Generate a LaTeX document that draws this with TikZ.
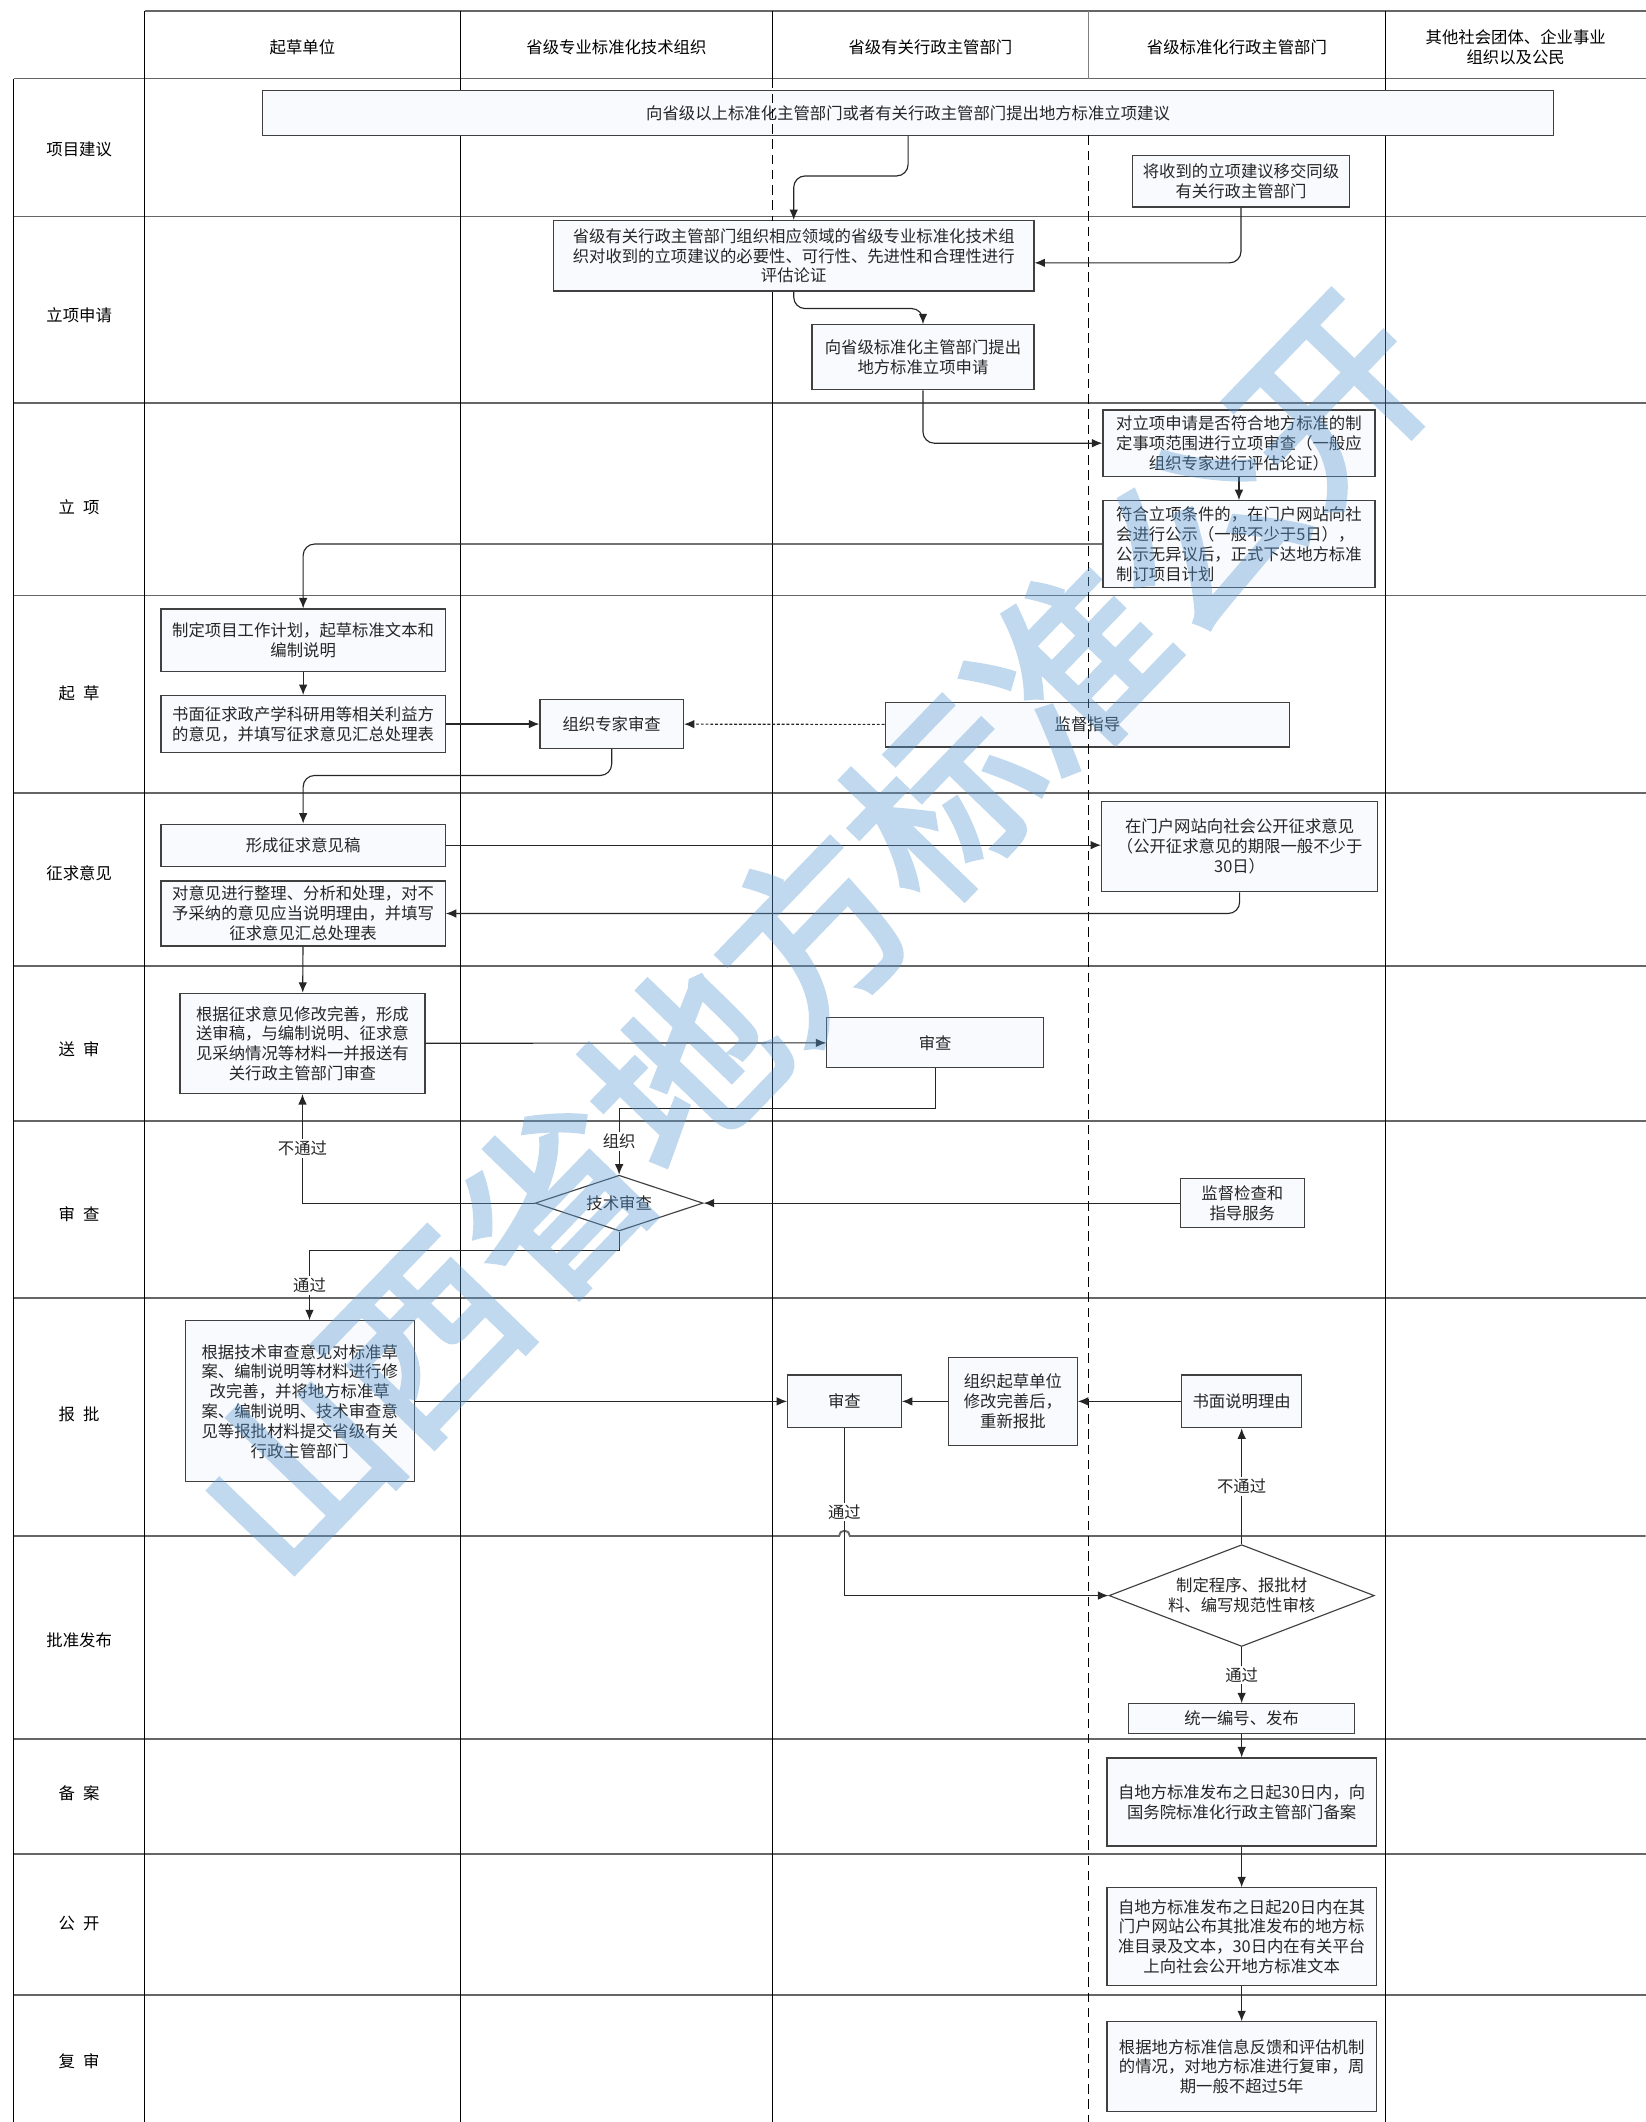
\documentclass[tikz,border=0pt]{standalone}
\usepackage{fontspec}
\setmainfont{Noto Sans CJK SC}
\newfontfamily\wmfont{Noto Sans CJK SC}[FakeBold=3]
\usetikzlibrary{shapes,arrows.meta,positioning,backgrounds}

\definecolor{boxfill}{HTML}{F8FAFD}
\definecolor{boxline}{HTML}{404040}
\definecolor{wmblue}{HTML}{5B9BD5}

\begin{document}
\begin{tikzpicture}[
        x=0.025cm, y=-0.025cm,
        font=\fontsize{8.6}{10.4}\selectfont,
        box/.style={rectangle, draw=boxline, fill=boxfill, line width=0.6pt, inner sep=0pt, align=center, text=black!85},
        span/.style 2 args={minimum width=#1*0.025cm, minimum height=#2*0.025cm},
        decision/.style={diamond, draw=boxline, fill=white, line width=0.6pt, inner sep=0pt, align=center, text=black!85},
        lane/.style={draw=black!60, line width=1pt},
        col/.style={draw=black, line width=0.6pt},
        split/.style={draw=black, line width=0.6pt, dash pattern=on 5pt off 3pt},
        arrow/.style={-{Latex[length=5.5pt,width=4.5pt]}, draw=black!85, line width=0.6pt},
        tag/.style={fill=white, inner sep=1pt, text=black!85}
    ]
        \useasboundingbox (0,0) rectangle (1216,1568);

        % lanes and columns
        \draw[lane] (107,8) -- (1216,8);
        \draw[lane] (10,58) -- (1216,58);
        \foreach \y in {160,298,440,586,714,828,959,1285,1370,1474} {
            \draw[lane] (10,\y) -- (1216,\y);
        }
        \draw[lane] (10,1135) -- (620,1135) arc[start angle=180, end angle=0, radius=0.1cm] -- (1216,1135);

        \foreach \x in {107,340,1024} {
            \draw[col] (\x,8) -- (\x,1568);
        }
        \draw[col] (10,58) -- (10,1568);
        \draw[col] (571,8) -- (571,58);
        \draw[col] (571,163) -- (571,1568);
        \draw[col, draw=black!50] (804,8) -- (804,58);

        \foreach \x/\lab [count=\i] in {223.5/起草单位, 455.5/省级专业标准化技术组织, 687.5/省级有关行政主管部门, 914/省级标准化行政主管部门, 1120/{其他社会团体、企业事业\\组织以及公民}} {
            \node[align=center] (head\i) at (\x,35) {\lab};
        }
        \foreach \y/\lab [count=\i] in {110/项目建议, 233/立项申请, 375/{立\hspace{.5em}项}, 512/{起\hspace{.5em}草}, 645/征求意见, 775/{送\hspace{.5em}审}, 897/{审\hspace{.5em}查}, 1045/{报\hspace{.5em}批}, 1212/批准发布, 1325/{备\hspace{.5em}案}, 1421/{公\hspace{.5em}开}, 1523/{复\hspace{.5em}审}} {
            \node (lane\i) at (58.5,\y) {\lab};
        }

        % steps
        \node[box, span={954}{33}] (b1) at (671,83.5) {向省级以上标准化主管部门或者有关行政主管部门提出地方标准立项建议};
        \node[box, span={160}{38}] (b2) at (917,134) {将收到的立项建议移交同级\\有关行政主管部门};
        \node[box, span={355}{52}] (b3) at (586.5,189) {省级有关行政主管部门组织相应领域的省级专业标准化技术组\\织对收到的立项建议的必要性、可行性、先进性和合理性进行\\评估论证};
        \node[box, span={164}{48}] (b4) at (682,264) {向省级标准化主管部门提出\\地方标准立项申请};
        \node[box, span={201}{49}] (b5) at (915.5,327.5) {对立项申请是否符合地方标准的制\\定事项范围进行立项审查（一般应\\组织专家进行评估论证）};
        \node[box, span={201}{64}, align=left] (b6) at (915.5,402) {符合立项条件的，在门户网站向社\\会进行公示（一般不少于5日），\\公示无异议后，正式下达地方标准\\制订项目计划};
        \node[box, span={210}{46}] (b7) at (224,473) {制定项目工作计划，起草标准文本和\\编制说明};
        \node[box, span={210}{42}] (b8) at (224,535) {书面征求政产学科研用等相关利益方\\的意见，并填写征求意见汇总处理表};
        \node[box, span={106}{36}] (b9) at (452,535) {组织专家审查};
        \node[box, span={299}{33}] (b10) at (803.5,535.5) {监督指导};
        \node[box, span={210}{31}] (b11) at (224,624.5) {形成征求意见稿};
        \node[box, span={204}{67}] (b12) at (916,625.5) {在门户网站向社会公开征求意见\\（公开征求意见的期限一般不少于\\30日）};
        \node[box, span={210}{48}] (b13) at (224,675) {对意见进行整理、分析和处理，对不\\予采纳的意见应当说明理由，并填写\\征求意见汇总处理表};
        \node[box, span={181}{74}] (b14) at (223.5,771) {根据征求意见修改完善，形成\\送审稿，与编制说明、征求意\\见采纳情况等材料一并报送有\\关行政主管部门审查};
        \node[box, span={160}{37}] (b15) at (691,770.5) {审查};
        \node[decision, shape aspect=3, minimum width=3.1cm, minimum height=1.03cm] (d1) at (457.5,889) {技术审查};
        \node[box, span={92}{36}] (b16) at (918,889) {监督检查和\\指导服务};
        \node[box, span={169}{119}] (b17) at (221.5,1035.5) {根据技术审查意见对标准草\\案、编制说明等材料进行修\\改完善，并将地方标准草\\案、编制说明、技术审查意\\见等报批材料提交省级有关\\行政主管部门};
        \node[box, span={84}{39}] (b18) at (624,1035.5) {审查};
        \node[box, span={95}{65}] (b19) at (748.5,1035.5) {组织起草单位\\修改完善后，\\重新报批};
        \node[box, span={89}{39}] (b20) at (917.5,1035.5) {书面说明理由};
        \node[decision, shape aspect=2.6, minimum width=4.9cm, minimum height=1.88cm] (d2) at (917.5,1179) {制定程序、报批材\\料、编写规范性审核};
        \node[box, span={167}{22}] (b21) at (917.5,1270) {统一编号、发布};
        \node[box, span={199}{65}] (b22) at (917.5,1331.5) {自地方标准发布之日起30日内，向\\国务院标准化行政主管部门备案};
        \node[box, span={199}{72}] (b23) at (917.5,1431) {自地方标准发布之日起20日内在其\\门户网站公布其批准发布的地方标\\准目录及文本，30日内在有关平台\\上向社会公开地方标准文本};
        \node[box, span={199}{66}] (b24) at (917.5,1527) {根据地方标准信息反馈和评估机制\\的情况，对地方标准进行复审，周\\期一般不超过5年};

        \draw[split] (571,58) -- (571,163);
        \draw[split] (804,100) -- (804,1568);

        % flow
        \draw[arrow, rounded corners=6pt] (b1.south) |- (b3.north |- 0,130) -- (b3.north);
        \draw[arrow, rounded corners=6pt] (b2.south) |- ([yshift=-1.3mm]b3.east);
        \draw[arrow, rounded corners=6pt] (b3.south) |- (b4.north |- 0,228) -- (b4.north);
        \draw[arrow, rounded corners=6pt] (b4.south) |- (b5.west);
        \draw[arrow] (b5) -- (b6);
        \draw[arrow, rounded corners=6pt] (b6.west) -| (b7.north);
        \draw[arrow] (b7) -- (b8);
        \draw[arrow] (b8) -- (b9);
        \draw[arrow, dash pattern=on 1.5pt off 1pt] (b10) -- (b9);
        \draw[arrow, rounded corners=6pt] (b9.south) |- (b11.north |- 0,573) -- (b11.north);
        \draw[arrow] (b11) -- (b12.west |- b11);
        \draw[arrow, rounded corners=6pt] (b12.south) |- (b13.east);
        \draw[arrow] (b13) -- (b14);
        \draw[arrow] (b14) -- (b15);
        \draw[arrow] (b15.south) |- (d1.north |- 0,819) -- node[tag] {组织} (d1.north);
        \draw[arrow] (d1.west) -| node[tag, pos=0.75] {不通过} (b14.south);
        \draw[arrow] (b16) -- (d1);
        \coordinate (pass) at ([xshift=0.18cm]b17.north);
        \draw[arrow] (d1.south) |- (pass |- 0,924) -- node[tag] {通过} (pass);
        \draw[arrow] (b17) -- (b18);
        \draw[arrow] (b19) -- (b18);
        \draw[arrow] (b20) -- (b19);
        \draw[arrow] (b18.south) |- node[tag, pos=0.25] {通过} (d2.west);
        \draw[arrow] (d2.north) -- node[tag] {不通过} (b20.south);
        \draw[arrow] (d2.south) -- node[tag] {通过} (b21.north);
        \draw[arrow] (b21) -- (b22);
        \draw[arrow] (b22) -- (b23);
        \draw[arrow] (b23) -- (b24);

        % watermark
        \begin{scope}[transparency group, opacity=0.38]
            \node[rotate=46, text=wmblue, inner sep=0pt, font=\wmfont\fontsize{98}{98}\selectfont] (mark) at (600,690) {山西省地方标准公开};
        \end{scope}
    \end{tikzpicture}
\end{document}
